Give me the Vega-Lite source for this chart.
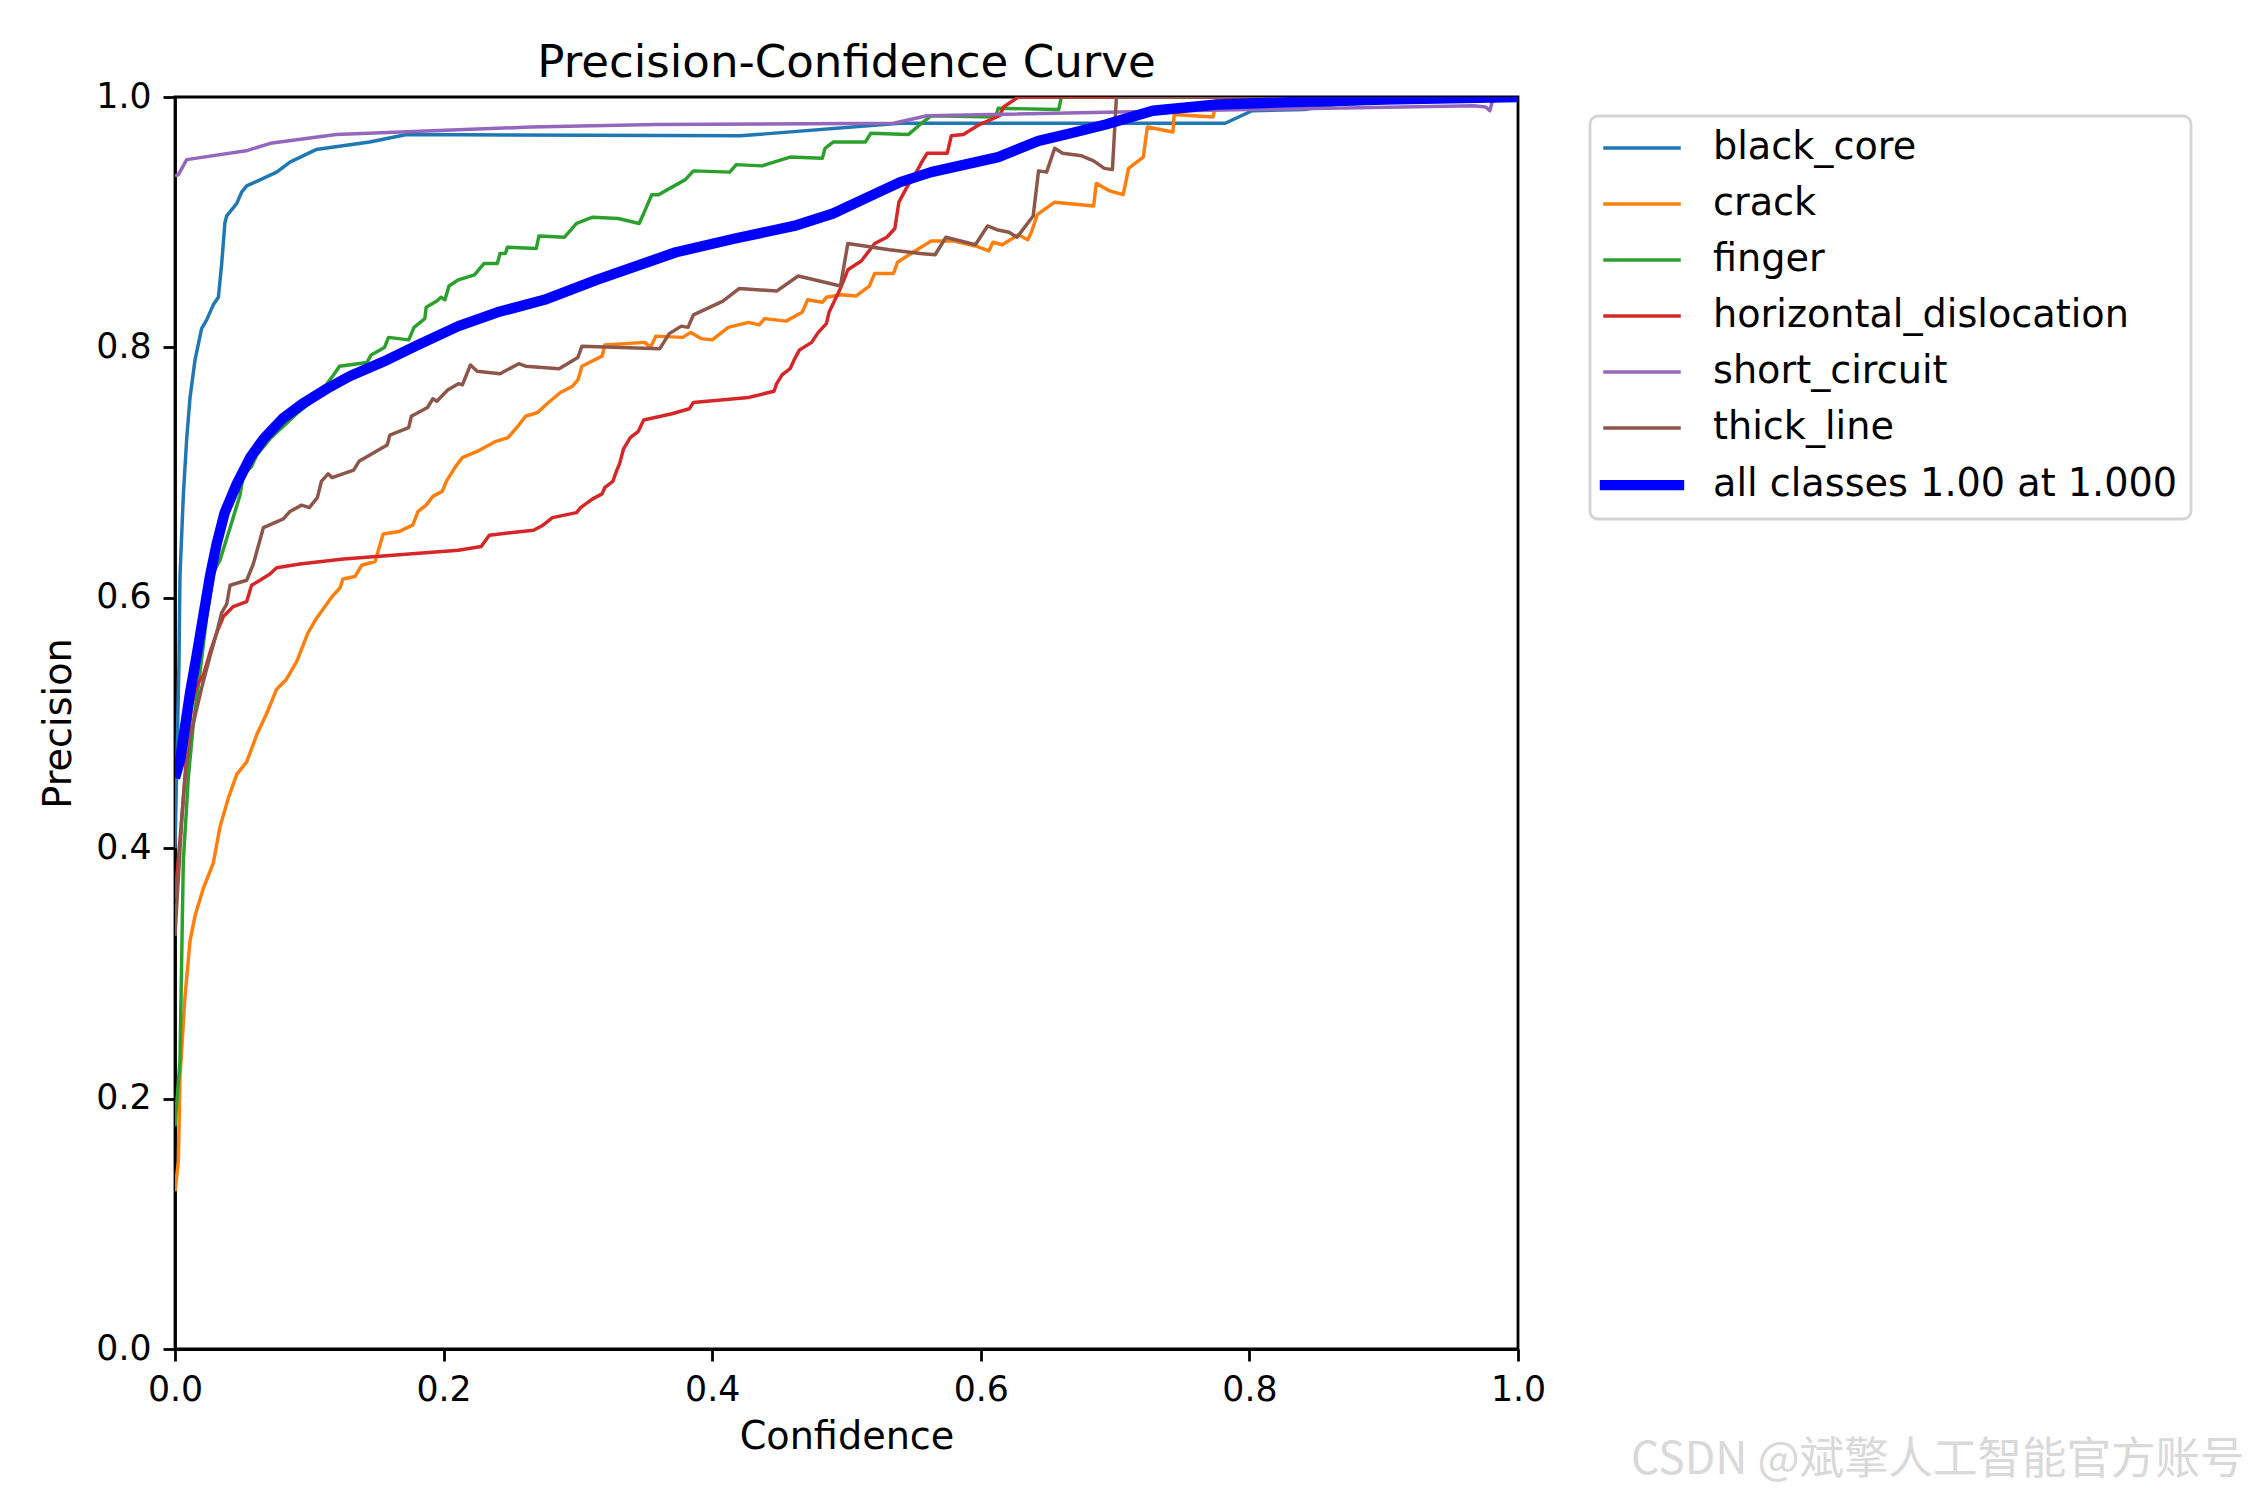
{
  "$schema": "https://vega.github.io/schema/vega-lite/v6.json",
  "width": 1343,
  "height": 1252,
  "autosize": {"type": "none"},
  "padding": {"left": 175, "top": 97, "right": 732, "bottom": 151},
  "background": "white",
  "title": {"text": "Precision-Confidence Curve", "fontSize": 45.1, "font": "DejaVu Sans", "fontWeight": "normal", "color": "black", "offset": -7, "anchor": "middle"},
  "config": {
    "font": "DejaVu Sans",
    "view": {"stroke": "black", "strokeWidth": 2.8},
    "axis": {"domainColor": "black", "domainWidth": 2.8, "tickColor": "black", "tickWidth": 2.8, "tickSize": 12, "labelFontSize": 34.7, "labelColor": "black", "labelPadding": 12, "titleFontSize": 38.2, "titleColor": "black", "titleFontWeight": "normal", "grid": false, "labelFont": "DejaVu Sans", "titleFont": "DejaVu Sans", "labelFlush": false, "labelOverlap": false},
    "axisX": {"titlePadding": 12},
    "axisY": {"titlePadding": 17}
  },
  "layer": [
    {
      "data": {"values": [
        {"cls":"black_core","conf":0,"prec":0.40},{"cls":"black_core","conf":0.003,"prec":0.55},{"cls":"black_core","conf":0.0037,"prec":0.617},{"cls":"black_core","conf":0.0062,"prec":0.682},{"cls":"black_core","conf":0.0087,"prec":0.727},{"cls":"black_core","conf":0.0112,"prec":0.76},{"cls":"black_core","conf":0.0149,"prec":0.79},{"cls":"black_core","conf":0.0198,"prec":0.815},{"cls":"black_core","conf":0.0236,"prec":0.822},{"cls":"black_core","conf":0.0285,"prec":0.834},{"cls":"black_core","conf":0.0323,"prec":0.84},{"cls":"black_core","conf":0.0347,"prec":0.866},{"cls":"black_core","conf":0.0372,"prec":0.9},{"cls":"black_core","conf":0.0385,"prec":0.905},{"cls":"black_core","conf":0.046,"prec":0.915},{"cls":"black_core","conf":0.0496,"prec":0.924},{"cls":"black_core","conf":0.0534,"prec":0.929},{"cls":"black_core","conf":0.0757,"prec":0.94},{"cls":"black_core","conf":0.0856,"prec":0.948},{"cls":"black_core","conf":0.105,"prec":0.958},{"cls":"black_core","conf":0.145,"prec":0.964},{"cls":"black_core","conf":0.1725,"prec":0.970},{"cls":"black_core","conf":0.421,"prec":0.969},{"cls":"black_core","conf":0.54,"prec":0.979},{"cls":"black_core","conf":0.782,"prec":0.979},{"cls":"black_core","conf":0.802,"prec":0.989},{"cls":"black_core","conf":0.841,"prec":0.990},{"cls":"black_core","conf":0.864,"prec":0.994},{"cls":"black_core","conf":0.95,"prec":0.998},{"cls":"black_core","conf":1.0,"prec":1.0},

        {"cls":"crack","conf":0,"prec":0.126},{"cls":"crack","conf":0.0025,"prec":0.15},{"cls":"crack","conf":0.0037,"prec":0.217},{"cls":"crack","conf":0.0074,"prec":0.281},{"cls":"crack","conf":0.0112,"prec":0.326},{"cls":"crack","conf":0.0149,"prec":0.346},{"cls":"crack","conf":0.0211,"prec":0.368},{"cls":"crack","conf":0.0285,"prec":0.388},{"cls":"crack","conf":0.0335,"prec":0.417},{"cls":"crack","conf":0.0397,"prec":0.44},{"cls":"crack","conf":0.046,"prec":0.459},{"cls":"crack","conf":0.0534,"prec":0.469},{"cls":"crack","conf":0.061,"prec":0.491},{"cls":"crack","conf":0.068,"prec":0.507},{"cls":"crack","conf":0.0757,"prec":0.527},{"cls":"crack","conf":0.083,"prec":0.535},{"cls":"crack","conf":0.0906,"prec":0.549},{"cls":"crack","conf":0.099,"prec":0.572},{"cls":"crack","conf":0.105,"prec":0.583},{"cls":"crack","conf":0.117,"prec":0.601},{"cls":"crack","conf":0.123,"prec":0.608},{"cls":"crack","conf":0.125,"prec":0.615},{"cls":"crack","conf":0.134,"prec":0.617},{"cls":"crack","conf":0.139,"prec":0.626},{"cls":"crack","conf":0.149,"prec":0.629},{"cls":"crack","conf":0.155,"prec":0.651},{"cls":"crack","conf":0.167,"prec":0.653},{"cls":"crack","conf":0.177,"prec":0.658},{"cls":"crack","conf":0.181,"prec":0.669},{"cls":"crack","conf":0.187,"prec":0.674},{"cls":"crack","conf":0.192,"prec":0.681},{"cls":"crack","conf":0.199,"prec":0.685},{"cls":"crack","conf":0.202,"prec":0.693},{"cls":"crack","conf":0.209,"prec":0.705},{"cls":"crack","conf":0.214,"prec":0.712},{"cls":"crack","conf":0.227,"prec":0.718},{"cls":"crack","conf":0.239,"prec":0.725},{"cls":"crack","conf":0.248,"prec":0.728},{"cls":"crack","conf":0.256,"prec":0.738},{"cls":"crack","conf":0.261,"prec":0.745},{"cls":"crack","conf":0.27,"prec":0.748},{"cls":"crack","conf":0.277,"prec":0.755},{"cls":"crack","conf":0.287,"prec":0.764},{"cls":"crack","conf":0.296,"prec":0.769},{"cls":"crack","conf":0.3,"prec":0.774},{"cls":"crack","conf":0.303,"prec":0.785},{"cls":"crack","conf":0.318,"prec":0.793},{"cls":"crack","conf":0.32,"prec":0.802},{"cls":"crack","conf":0.35,"prec":0.804},{"cls":"crack","conf":0.354,"prec":0.8},{"cls":"crack","conf":0.358,"prec":0.809},{"cls":"crack","conf":0.378,"prec":0.808},{"cls":"crack","conf":0.384,"prec":0.812},{"cls":"crack","conf":0.392,"prec":0.807},{"cls":"crack","conf":0.4,"prec":0.806},{"cls":"crack","conf":0.412,"prec":0.816},{"cls":"crack","conf":0.427,"prec":0.82},{"cls":"crack","conf":0.435,"prec":0.818},{"cls":"crack","conf":0.439,"prec":0.823},{"cls":"crack","conf":0.455,"prec":0.821},{"cls":"crack","conf":0.467,"prec":0.828},{"cls":"crack","conf":0.471,"prec":0.838},{"cls":"crack","conf":0.482,"prec":0.836},{"cls":"crack","conf":0.485,"prec":0.84},{"cls":"crack","conf":0.496,"prec":0.842},{"cls":"crack","conf":0.507,"prec":0.841},{"cls":"crack","conf":0.517,"prec":0.849},{"cls":"crack","conf":0.521,"prec":0.859},{"cls":"crack","conf":0.535,"prec":0.859},{"cls":"crack","conf":0.538,"prec":0.868},{"cls":"crack","conf":0.548,"prec":0.875},{"cls":"crack","conf":0.563,"prec":0.885},{"cls":"crack","conf":0.58,"prec":0.885},{"cls":"crack","conf":0.596,"prec":0.881},{"cls":"crack","conf":0.606,"prec":0.877},{"cls":"crack","conf":0.609,"prec":0.884},{"cls":"crack","conf":0.616,"prec":0.882},{"cls":"crack","conf":0.628,"prec":0.89},{"cls":"crack","conf":0.635,"prec":0.886},{"cls":"crack","conf":0.638,"prec":0.893},{"cls":"crack","conf":0.642,"prec":0.906},{"cls":"crack","conf":0.655,"prec":0.916},{"cls":"crack","conf":0.684,"prec":0.913},{"cls":"crack","conf":0.686,"prec":0.931},{"cls":"crack","conf":0.696,"prec":0.925},{"cls":"crack","conf":0.706,"prec":0.922},{"cls":"crack","conf":0.708,"prec":0.932},{"cls":"crack","conf":0.71,"prec":0.943},{"cls":"crack","conf":0.721,"prec":0.952},{"cls":"crack","conf":0.724,"prec":0.976},{"cls":"crack","conf":0.743,"prec":0.972},{"cls":"crack","conf":0.744,"prec":0.986},{"cls":"crack","conf":0.773,"prec":0.984},{"cls":"crack","conf":0.776,"prec":1.0},{"cls":"crack","conf":1.0,"prec":1.0},

        {"cls":"finger","conf":0,"prec":0.178},{"cls":"finger","conf":0.0037,"prec":0.23},{"cls":"finger","conf":0.0062,"prec":0.39},{"cls":"finger","conf":0.0099,"prec":0.456},{"cls":"finger","conf":0.0137,"prec":0.5},{"cls":"finger","conf":0.0186,"prec":0.54},{"cls":"finger","conf":0.0236,"prec":0.585},{"cls":"finger","conf":0.0285,"prec":0.62},{"cls":"finger","conf":0.0335,"prec":0.63},{"cls":"finger","conf":0.0372,"prec":0.643},{"cls":"finger","conf":0.041,"prec":0.656},{"cls":"finger","conf":0.0447,"prec":0.669},{"cls":"finger","conf":0.0484,"prec":0.682},{"cls":"finger","conf":0.0509,"prec":0.698},{"cls":"finger","conf":0.0571,"prec":0.705},{"cls":"finger","conf":0.0608,"prec":0.714},{"cls":"finger","conf":0.0707,"prec":0.727},{"cls":"finger","conf":0.0906,"prec":0.747},{"cls":"finger","conf":0.1055,"prec":0.76},{"cls":"finger","conf":0.118,"prec":0.778},{"cls":"finger","conf":0.1225,"prec":0.785},{"cls":"finger","conf":0.143,"prec":0.788},{"cls":"finger","conf":0.146,"prec":0.794},{"cls":"finger","conf":0.156,"prec":0.8},{"cls":"finger","conf":0.159,"prec":0.808},{"cls":"finger","conf":0.174,"prec":0.806},{"cls":"finger","conf":0.178,"prec":0.816},{"cls":"finger","conf":0.186,"prec":0.823},{"cls":"finger","conf":0.187,"prec":0.832},{"cls":"finger","conf":0.195,"prec":0.837},{"cls":"finger","conf":0.198,"prec":0.84},{"cls":"finger","conf":0.201,"prec":0.838},{"cls":"finger","conf":0.204,"prec":0.849},{"cls":"finger","conf":0.211,"prec":0.854},{"cls":"finger","conf":0.223,"prec":0.858},{"cls":"finger","conf":0.23,"prec":0.867},{"cls":"finger","conf":0.24,"prec":0.867},{"cls":"finger","conf":0.242,"prec":0.875},{"cls":"finger","conf":0.246,"prec":0.875},{"cls":"finger","conf":0.2475,"prec":0.88},{"cls":"finger","conf":0.269,"prec":0.879},{"cls":"finger","conf":0.271,"prec":0.889},{"cls":"finger","conf":0.29,"prec":0.888},{"cls":"finger","conf":0.299,"prec":0.899},{"cls":"finger","conf":0.311,"prec":0.904},{"cls":"finger","conf":0.33,"prec":0.903},{"cls":"finger","conf":0.3456,"prec":0.899},{"cls":"finger","conf":0.349,"prec":0.907},{"cls":"finger","conf":0.355,"prec":0.922},{"cls":"finger","conf":0.36,"prec":0.922},{"cls":"finger","conf":0.38,"prec":0.934},{"cls":"finger","conf":0.386,"prec":0.941},{"cls":"finger","conf":0.413,"prec":0.94},{"cls":"finger","conf":0.418,"prec":0.946},{"cls":"finger","conf":0.437,"prec":0.945},{"cls":"finger","conf":0.458,"prec":0.952},{"cls":"finger","conf":0.482,"prec":0.951},{"cls":"finger","conf":0.484,"prec":0.959},{"cls":"finger","conf":0.49,"prec":0.964},{"cls":"finger","conf":0.514,"prec":0.964},{"cls":"finger","conf":0.518,"prec":0.971},{"cls":"finger","conf":0.546,"prec":0.97},{"cls":"finger","conf":0.557,"prec":0.98},{"cls":"finger","conf":0.563,"prec":0.985},{"cls":"finger","conf":0.611,"prec":0.984},{"cls":"finger","conf":0.613,"prec":0.991},{"cls":"finger","conf":0.658,"prec":0.99},{"cls":"finger","conf":0.66,"prec":1.0},{"cls":"finger","conf":1.0,"prec":1.0},

        {"cls":"horizontal_dislocation","conf":0,"prec":0.36},{"cls":"horizontal_dislocation","conf":0.005,"prec":0.423},{"cls":"horizontal_dislocation","conf":0.0087,"prec":0.475},{"cls":"horizontal_dislocation","conf":0.0124,"prec":0.514},{"cls":"horizontal_dislocation","conf":0.0161,"prec":0.53},{"cls":"horizontal_dislocation","conf":0.021,"prec":0.538},{"cls":"horizontal_dislocation","conf":0.026,"prec":0.556},{"cls":"horizontal_dislocation","conf":0.031,"prec":0.572},{"cls":"horizontal_dislocation","conf":0.036,"prec":0.585},{"cls":"horizontal_dislocation","conf":0.0434,"prec":0.593},{"cls":"horizontal_dislocation","conf":0.0534,"prec":0.597},{"cls":"horizontal_dislocation","conf":0.057,"prec":0.61},{"cls":"horizontal_dislocation","conf":0.0633,"prec":0.614},{"cls":"horizontal_dislocation","conf":0.0707,"prec":0.619},{"cls":"horizontal_dislocation","conf":0.0757,"prec":0.624},{"cls":"horizontal_dislocation","conf":0.093,"prec":0.627},{"cls":"horizontal_dislocation","conf":0.1255,"prec":0.631},{"cls":"horizontal_dislocation","conf":0.211,"prec":0.638},{"cls":"horizontal_dislocation","conf":0.228,"prec":0.641},{"cls":"horizontal_dislocation","conf":0.234,"prec":0.65},{"cls":"horizontal_dislocation","conf":0.267,"prec":0.654},{"cls":"horizontal_dislocation","conf":0.274,"prec":0.658},{"cls":"horizontal_dislocation","conf":0.281,"prec":0.664},{"cls":"horizontal_dislocation","conf":0.299,"prec":0.668},{"cls":"horizontal_dislocation","conf":0.302,"prec":0.672},{"cls":"horizontal_dislocation","conf":0.311,"prec":0.679},{"cls":"horizontal_dislocation","conf":0.318,"prec":0.683},{"cls":"horizontal_dislocation","conf":0.32,"prec":0.688},{"cls":"horizontal_dislocation","conf":0.326,"prec":0.693},{"cls":"horizontal_dislocation","conf":0.329,"prec":0.702},{"cls":"horizontal_dislocation","conf":0.331,"prec":0.707},{"cls":"horizontal_dislocation","conf":0.334,"prec":0.719},{"cls":"horizontal_dislocation","conf":0.339,"prec":0.728},{"cls":"horizontal_dislocation","conf":0.345,"prec":0.733},{"cls":"horizontal_dislocation","conf":0.349,"prec":0.742},{"cls":"horizontal_dislocation","conf":0.37,"prec":0.747},{"cls":"horizontal_dislocation","conf":0.383,"prec":0.751},{"cls":"horizontal_dislocation","conf":0.386,"prec":0.756},{"cls":"horizontal_dislocation","conf":0.427,"prec":0.76},{"cls":"horizontal_dislocation","conf":0.446,"prec":0.765},{"cls":"horizontal_dislocation","conf":0.448,"prec":0.771},{"cls":"horizontal_dislocation","conf":0.452,"prec":0.778},{"cls":"horizontal_dislocation","conf":0.458,"prec":0.783},{"cls":"horizontal_dislocation","conf":0.461,"prec":0.79},{"cls":"horizontal_dislocation","conf":0.465,"prec":0.798},{"cls":"horizontal_dislocation","conf":0.474,"prec":0.804},{"cls":"horizontal_dislocation","conf":0.479,"prec":0.812},{"cls":"horizontal_dislocation","conf":0.485,"prec":0.819},{"cls":"horizontal_dislocation","conf":0.487,"prec":0.828},{"cls":"horizontal_dislocation","conf":0.495,"prec":0.846},{"cls":"horizontal_dislocation","conf":0.501,"prec":0.862},{"cls":"horizontal_dislocation","conf":0.511,"prec":0.869},{"cls":"horizontal_dislocation","conf":0.521,"prec":0.883},{"cls":"horizontal_dislocation","conf":0.53,"prec":0.888},{"cls":"horizontal_dislocation","conf":0.536,"prec":0.895},{"cls":"horizontal_dislocation","conf":0.539,"prec":0.916},{"cls":"horizontal_dislocation","conf":0.545,"prec":0.928},{"cls":"horizontal_dislocation","conf":0.553,"prec":0.942},{"cls":"horizontal_dislocation","conf":0.556,"prec":0.948},{"cls":"horizontal_dislocation","conf":0.56,"prec":0.955},{"cls":"horizontal_dislocation","conf":0.575,"prec":0.955},{"cls":"horizontal_dislocation","conf":0.578,"prec":0.969},{"cls":"horizontal_dislocation","conf":0.587,"prec":0.97},{"cls":"horizontal_dislocation","conf":0.599,"prec":0.978},{"cls":"horizontal_dislocation","conf":0.614,"prec":0.985},{"cls":"horizontal_dislocation","conf":0.617,"prec":0.992},{"cls":"horizontal_dislocation","conf":0.628,"prec":1.0},{"cls":"horizontal_dislocation","conf":1.0,"prec":1.0},

        {"cls":"short_circuit","conf":0,"prec":0.937},{"cls":"short_circuit","conf":0.0025,"prec":0.938},{"cls":"short_circuit","conf":0.0087,"prec":0.95},{"cls":"short_circuit","conf":0.053,"prec":0.957},{"cls":"short_circuit","conf":0.071,"prec":0.963},{"cls":"short_circuit","conf":0.12,"prec":0.97},{"cls":"short_circuit","conf":0.265,"prec":0.976},{"cls":"short_circuit","conf":0.358,"prec":0.978},{"cls":"short_circuit","conf":0.535,"prec":0.979},{"cls":"short_circuit","conf":0.56,"prec":0.985},{"cls":"short_circuit","conf":0.8,"prec":0.99},{"cls":"short_circuit","conf":0.967,"prec":0.993},{"cls":"short_circuit","conf":0.976,"prec":0.992},{"cls":"short_circuit","conf":0.979,"prec":0.989},{"cls":"short_circuit","conf":0.981,"prec":0.997},{"cls":"short_circuit","conf":1.0,"prec":1.0},

        {"cls":"thick_line","conf":0,"prec":0.33},{"cls":"thick_line","conf":0.005,"prec":0.423},{"cls":"thick_line","conf":0.0074,"prec":0.456},{"cls":"thick_line","conf":0.0112,"prec":0.488},{"cls":"thick_line","conf":0.0161,"prec":0.511},{"cls":"thick_line","conf":0.021,"prec":0.533},{"cls":"thick_line","conf":0.026,"prec":0.553},{"cls":"thick_line","conf":0.031,"prec":0.572},{"cls":"thick_line","conf":0.0347,"prec":0.588},{"cls":"thick_line","conf":0.0385,"prec":0.595},{"cls":"thick_line","conf":0.041,"prec":0.61},{"cls":"thick_line","conf":0.0534,"prec":0.614},{"cls":"thick_line","conf":0.0583,"prec":0.627},{"cls":"thick_line","conf":0.0658,"prec":0.656},{"cls":"thick_line","conf":0.0807,"prec":0.663},{"cls":"thick_line","conf":0.0856,"prec":0.669},{"cls":"thick_line","conf":0.0943,"prec":0.674},{"cls":"thick_line","conf":0.1,"prec":0.672},{"cls":"thick_line","conf":0.106,"prec":0.68},{"cls":"thick_line","conf":0.109,"prec":0.693},{"cls":"thick_line","conf":0.114,"prec":0.699},{"cls":"thick_line","conf":0.117,"prec":0.696},{"cls":"thick_line","conf":0.133,"prec":0.702},{"cls":"thick_line","conf":0.137,"prec":0.709},{"cls":"thick_line","conf":0.158,"prec":0.722},{"cls":"thick_line","conf":0.16,"prec":0.73},{"cls":"thick_line","conf":0.174,"prec":0.736},{"cls":"thick_line","conf":0.176,"prec":0.745},{"cls":"thick_line","conf":0.188,"prec":0.752},{"cls":"thick_line","conf":0.192,"prec":0.759},{"cls":"thick_line","conf":0.195,"prec":0.757},{"cls":"thick_line","conf":0.203,"prec":0.766},{"cls":"thick_line","conf":0.211,"prec":0.771},{"cls":"thick_line","conf":0.214,"prec":0.77},{"cls":"thick_line","conf":0.22,"prec":0.786},{"cls":"thick_line","conf":0.225,"prec":0.781},{"cls":"thick_line","conf":0.242,"prec":0.779},{"cls":"thick_line","conf":0.256,"prec":0.787},{"cls":"thick_line","conf":0.261,"prec":0.785},{"cls":"thick_line","conf":0.286,"prec":0.783},{"cls":"thick_line","conf":0.3,"prec":0.792},{"cls":"thick_line","conf":0.303,"prec":0.801},{"cls":"thick_line","conf":0.361,"prec":0.799},{"cls":"thick_line","conf":0.368,"prec":0.811},{"cls":"thick_line","conf":0.377,"prec":0.817},{"cls":"thick_line","conf":0.382,"prec":0.816},{"cls":"thick_line","conf":0.386,"prec":0.826},{"cls":"thick_line","conf":0.408,"prec":0.837},{"cls":"thick_line","conf":0.42,"prec":0.847},{"cls":"thick_line","conf":0.448,"prec":0.845},{"cls":"thick_line","conf":0.464,"prec":0.857},{"cls":"thick_line","conf":0.476,"prec":0.854},{"cls":"thick_line","conf":0.4955,"prec":0.849},{"cls":"thick_line","conf":0.501,"prec":0.883},{"cls":"thick_line","conf":0.532,"prec":0.878},{"cls":"thick_line","conf":0.555,"prec":0.875},{"cls":"thick_line","conf":0.566,"prec":0.874},{"cls":"thick_line","conf":0.574,"prec":0.888},{"cls":"thick_line","conf":0.596,"prec":0.882},{"cls":"thick_line","conf":0.605,"prec":0.897},{"cls":"thick_line","conf":0.612,"prec":0.894},{"cls":"thick_line","conf":0.621,"prec":0.892},{"cls":"thick_line","conf":0.627,"prec":0.888},{"cls":"thick_line","conf":0.639,"prec":0.905},{"cls":"thick_line","conf":0.643,"prec":0.941},{"cls":"thick_line","conf":0.649,"prec":0.94},{"cls":"thick_line","conf":0.655,"prec":0.959},{"cls":"thick_line","conf":0.661,"prec":0.955},{"cls":"thick_line","conf":0.675,"prec":0.953},{"cls":"thick_line","conf":0.684,"prec":0.949},{"cls":"thick_line","conf":0.692,"prec":0.943},{"cls":"thick_line","conf":0.698,"prec":0.942},{"cls":"thick_line","conf":0.701,"prec":1.0},{"cls":"thick_line","conf":1.0,"prec":1.0},

        {"cls":"all classes 1.00 at 1.000","conf":0,"prec":0.456},{"cls":"all classes 1.00 at 1.000","conf":0.0037,"prec":0.47},{"cls":"all classes 1.00 at 1.000","conf":0.0062,"prec":0.488},{"cls":"all classes 1.00 at 1.000","conf":0.0112,"prec":0.524},{"cls":"all classes 1.00 at 1.000","conf":0.016,"prec":0.553},{"cls":"all classes 1.00 at 1.000","conf":0.021,"prec":0.585},{"cls":"all classes 1.00 at 1.000","conf":0.026,"prec":0.617},{"cls":"all classes 1.00 at 1.000","conf":0.031,"prec":0.643},{"cls":"all classes 1.00 at 1.000","conf":0.037,"prec":0.668},{"cls":"all classes 1.00 at 1.000","conf":0.046,"prec":0.691},{"cls":"all classes 1.00 at 1.000","conf":0.056,"prec":0.712},{"cls":"all classes 1.00 at 1.000","conf":0.066,"prec":0.727},{"cls":"all classes 1.00 at 1.000","conf":0.08,"prec":0.743},{"cls":"all classes 1.00 at 1.000","conf":0.095,"prec":0.755},{"cls":"all classes 1.00 at 1.000","conf":0.113,"prec":0.767},{"cls":"all classes 1.00 at 1.000","conf":0.13,"prec":0.777},{"cls":"all classes 1.00 at 1.000","conf":0.158,"prec":0.79},{"cls":"all classes 1.00 at 1.000","conf":0.181,"prec":0.802},{"cls":"all classes 1.00 at 1.000","conf":0.211,"prec":0.817},{"cls":"all classes 1.00 at 1.000","conf":0.24,"prec":0.828},{"cls":"all classes 1.00 at 1.000","conf":0.275,"prec":0.838},{"cls":"all classes 1.00 at 1.000","conf":0.314,"prec":0.854},{"cls":"all classes 1.00 at 1.000","conf":0.373,"prec":0.876},{"cls":"all classes 1.00 at 1.000","conf":0.417,"prec":0.887},{"cls":"all classes 1.00 at 1.000","conf":0.461,"prec":0.897},{"cls":"all classes 1.00 at 1.000","conf":0.49,"prec":0.907},{"cls":"all classes 1.00 at 1.000","conf":0.52,"prec":0.922},{"cls":"all classes 1.00 at 1.000","conf":0.54,"prec":0.932},{"cls":"all classes 1.00 at 1.000","conf":0.563,"prec":0.94},{"cls":"all classes 1.00 at 1.000","conf":0.613,"prec":0.952},{"cls":"all classes 1.00 at 1.000","conf":0.643,"prec":0.965},{"cls":"all classes 1.00 at 1.000","conf":0.667,"prec":0.971},{"cls":"all classes 1.00 at 1.000","conf":0.693,"prec":0.978},{"cls":"all classes 1.00 at 1.000","conf":0.728,"prec":0.989},{"cls":"all classes 1.00 at 1.000","conf":0.776,"prec":0.994},{"cls":"all classes 1.00 at 1.000","conf":0.835,"prec":0.996},{"cls":"all classes 1.00 at 1.000","conf":0.9,"prec":0.998},{"cls":"all classes 1.00 at 1.000","conf":1.0,"prec":1.0}
      ]},
      "mark": {"type": "line", "clip": true, "strokeJoin": "round", "strokeCap": "butt"},
      "encoding": {
        "x": {"field": "conf", "type": "quantitative", "scale": {"domain": [0, 1], "nice": false, "zero": false}, "axis": {"values": [0, 0.2, 0.4, 0.6, 0.8, 1.0], "format": ".1f", "title": "Confidence"}},
        "y": {"field": "prec", "type": "quantitative", "scale": {"domain": [0, 1], "nice": false, "zero": false}, "axis": {"values": [0, 0.2, 0.4, 0.6, 0.8, 1.0], "format": ".1f", "title": "Precision"}},
        "color": {"field": "cls", "type": "nominal",
          "scale": {"domain": ["black_core", "crack", "finger", "horizontal_dislocation", "short_circuit", "thick_line", "all classes 1.00 at 1.000"], "range": ["#1f77b4", "#ff7f0e", "#2ca02c", "#d62728", "#9467bd", "#8c564b", "#0000ff"]},
          "legend": {"title": null, "orient": "none", "legendX": 1415, "legendY": 19, "symbolType": "stroke", "symbolSize": 900, "symbolStrokeWidth": 3.5, "labelFontSize": 38.2, "labelFont": "DejaVu Sans", "labelColor": "black", "labelLimit": 1000, "rowPadding": 17, "padding": 13, "strokeColor": "#d4d4d4", "cornerRadius": 8, "fillColor": "white",
            "encode": {
              "legend": {"update": {"strokeWidth": {"value": 2.8}}},
              "symbols": {"update": {"size": {"value": 5476}, "x": {"value": 39}, "strokeCap": {"value": "square"}, "strokeWidth": {"signal": "datum.value === 'all classes 1.00 at 1.000' ? 10.4 : 3.5"}}},
              "labels": {"update": {"x": {"value": 110}}}
            }
          }
        },
        "strokeWidth": {"condition": {"test": "datum.cls === 'all classes 1.00 at 1.000'", "value": 10.4}, "value": 3.47}
      }
    },
    {
      "data": {"values": [{"t": "CSDN @斌擎人工智能官方账号"}]},
      "mark": {"type": "text", "align": "right", "baseline": "middle", "font": "Noto Sans CJK SC", "fontSize": 44.5, "color": "#d9d9d9", "clip": false},
      "encoding": {
        "x": {"datum": 1.541, "type": "quantitative"},
        "y": {"datum": -0.0895, "type": "quantitative"},
        "text": {"field": "t"}
      }
    }
  ]
}
